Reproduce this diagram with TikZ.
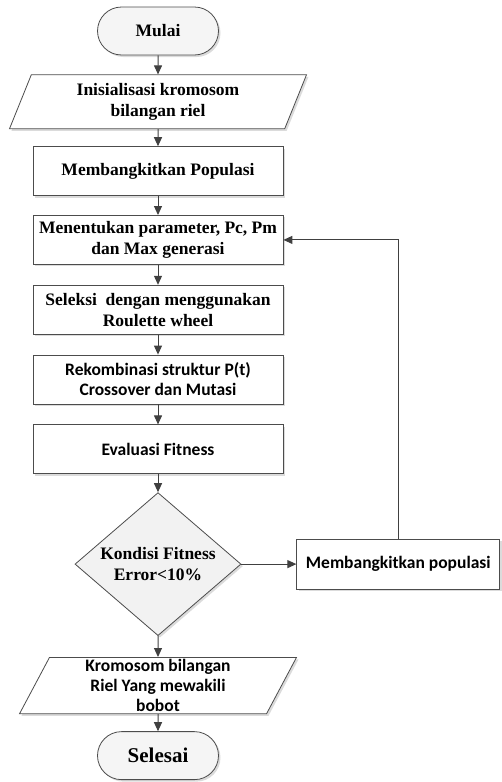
\documentclass[tikz,border=0pt]{standalone}
\usepackage{fontspec}
\setmainfont{Liberation Serif}
\newfontfamily\calibrifont{Carlito}
\usetikzlibrary{arrows.meta, positioning, shapes.geometric, shapes.misc, shadows}

\begin{document}
\begin{tikzpicture}[
  x=1pt, y=1pt,
  base/.style={draw=black!70, line width=0.8pt, align=center, inner sep=2pt, fill=white,
    font=\fontsize{17.5}{21}\selectfont\bfseries,
    drop shadow={shadow xshift=2pt, shadow yshift=-2pt, fill=black!20, opacity=0.7}},
  terminal/.style={base, rounded rectangle, fill=black!4, minimum width=125pt, minimum height=48pt},
  proc/.style={base, rectangle, minimum width=250pt, minimum height=49pt},
  io/.style={base, trapezium, trapezium left angle=62, trapezium right angle=118,
    trapezium stretches body, minimum width=297pt, minimum height=54pt},
  decision/.style={base, diamond, aspect=1.16, fill=black!5, minimum width=166pt, minimum height=143pt, inner sep=0pt},
  cal/.style={font=\calibrifont\fontsize{17.5}{20}\selectfont\bfseries},
  arr/.style={->, draw=black!75, line width=1pt},
  >={Triangle[length=9pt, width=8pt]}, node distance=19pt
]
\useasboundingbox (0,0) rectangle (501,-782);

\node[terminal] (mulai) at (158,-31) {Mulai};
\node[io, below=of mulai]   (init)  {Inisialisasi kromosom\\bilangan riel};
\node[proc, below=17pt of init]  (popul) {Membangkitkan Populasi};
\node[proc, below=of popul] (param) {Menentukan parameter, Pc, Pm\\dan Max generasi};
\node[proc, below=20pt of param] (sel)   {Seleksi\ \ dengan menggunakan\\Roulette wheel};
\node[proc, cal, below=20pt of sel]  (rek)  {Rekombinasi struktur P(t)\\Crossover dan Mutasi};
\node[proc, cal, below=20pt of rek]  (eval) {Evaluasi Fitness};
\node[decision, below=18pt of eval]  (cond) {Kondisi Fitness\\Error<10\%};
\node[proc, cal, minimum width=203pt, minimum height=50pt, right=55pt of cond] (baru) {Membangkitkan populasi};
\node[io, cal, minimum width=277pt, below=21pt of cond] (hasil) {Kromosom bilangan\\Riel Yang mewakili\\bobot};
\node[terminal, font=\fontsize{21}{24}\selectfont\bfseries, below=17pt of hasil] (selesai) {Selesai};

\draw[arr] (mulai) -- (init);
\draw[arr] (init)  -- (popul);
\draw[arr] (popul) -- (param);
\draw[arr] (param) -- (sel);
\draw[arr] (sel)   -- (rek);
\draw[arr] (rek)   -- (eval);
\draw[arr] (eval)  -- (cond);
\draw[arr] (cond)  -- (baru);
\draw[arr] (baru.north) |- (param.east);
\draw[arr] (cond)  -- (hasil);
\draw[arr] (hasil) -- (selesai);
\end{tikzpicture}
\end{document}
